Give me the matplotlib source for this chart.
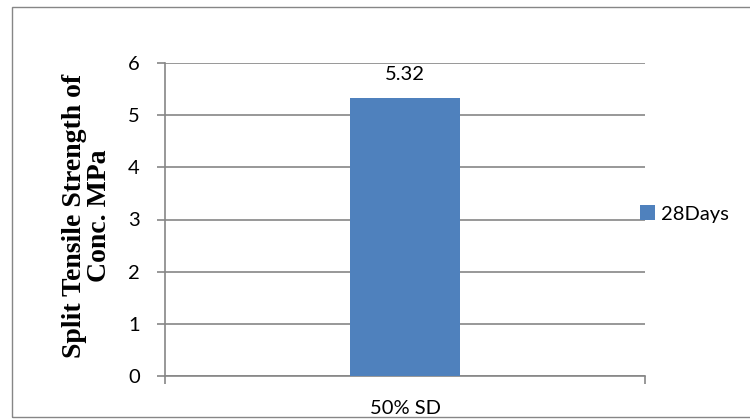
import matplotlib
matplotlib.use("Agg")
import matplotlib.pyplot as plt
from matplotlib.patches import Rectangle, Patch

categories = ["50% SD"]
strength_28days = [5.32]
series_name = "28Days"
y_ticks = [0, 1, 2, 3, 4, 5, 6]

W, H = 750, 420
fig = plt.figure(figsize=(W / 100, H / 100), dpi=100)

# outer chart frame
fig.patches.append(Rectangle((12 / W, 3 / H), 760 / W, 410 / H, transform=fig.transFigure,
                             fill=False, edgecolor="#868686", linewidth=1.0))

ax = fig.add_axes([165 / W, 44 / H, 480 / W, 313 / H])
bar_color = "#4F81BD"
grid_color = "#868686"
tick_font = "Lato"
fs = 14.5

x = list(range(len(categories)))
bars = ax.bar(x, strength_28days, width=0.23, color=bar_color, zorder=3, label=series_name)
ax.set_xlim(-0.5, 0.5)
ax.set_ylim(0, 6)
ax.set_yticks(y_ticks)
ax.set_yticklabels([str(t) for t in y_ticks], fontsize=fs, family=tick_font)
ax.yaxis.grid(True, color=grid_color, linewidth=1.2, zorder=0)
ax.set_axisbelow(True)

for s in ["top", "right"]:
    ax.spines[s].set_visible(False)
for s in ["left", "bottom"]:
    ax.spines[s].set_color(grid_color)
    ax.spines[s].set_linewidth(1.2)
ax.tick_params(axis="y", length=6, width=1.2, color=grid_color, pad=12)
# category boundary ticks on the x axis
ax.set_xticks([-0.5, 0.5])
ax.set_xticklabels(["", ""])
ax.tick_params(axis="x", length=6, width=1.2, color=grid_color)
for xi, c in zip(x, categories):
    ax.annotate(c, xy=(xi, 0), xycoords="data", xytext=(0, -17), textcoords="offset points",
                ha="center", va="top", fontsize=fs, family=tick_font)

for b, v in zip(bars, strength_28days):
    ax.annotate(f"{v:.2f}", xy=(b.get_x() + b.get_width() / 2, v), xytext=(0, 11),
                textcoords="offset points", ha="center", va="bottom", fontsize=fs, family=tick_font)

fig.text(87 / W, 1 - 216 / H, "Split Tensile Strength of\nConc. MPa", rotation=90,
         ha="center", va="center", fontsize=20, fontweight="bold",
         family="Liberation Serif", linespacing=1.05, multialignment="center")

fig.legend(handles=[Patch(facecolor=bar_color, label=series_name)], loc="center left",
           bbox_to_anchor=(640 / W, 1 - 214 / H), frameon=False,
           prop={"family": tick_font, "size": fs}, handlelength=0.75, handleheight=0.75,
           handletextpad=0.3, borderaxespad=0, borderpad=0)

fig.savefig("out.png", dpi=100)
